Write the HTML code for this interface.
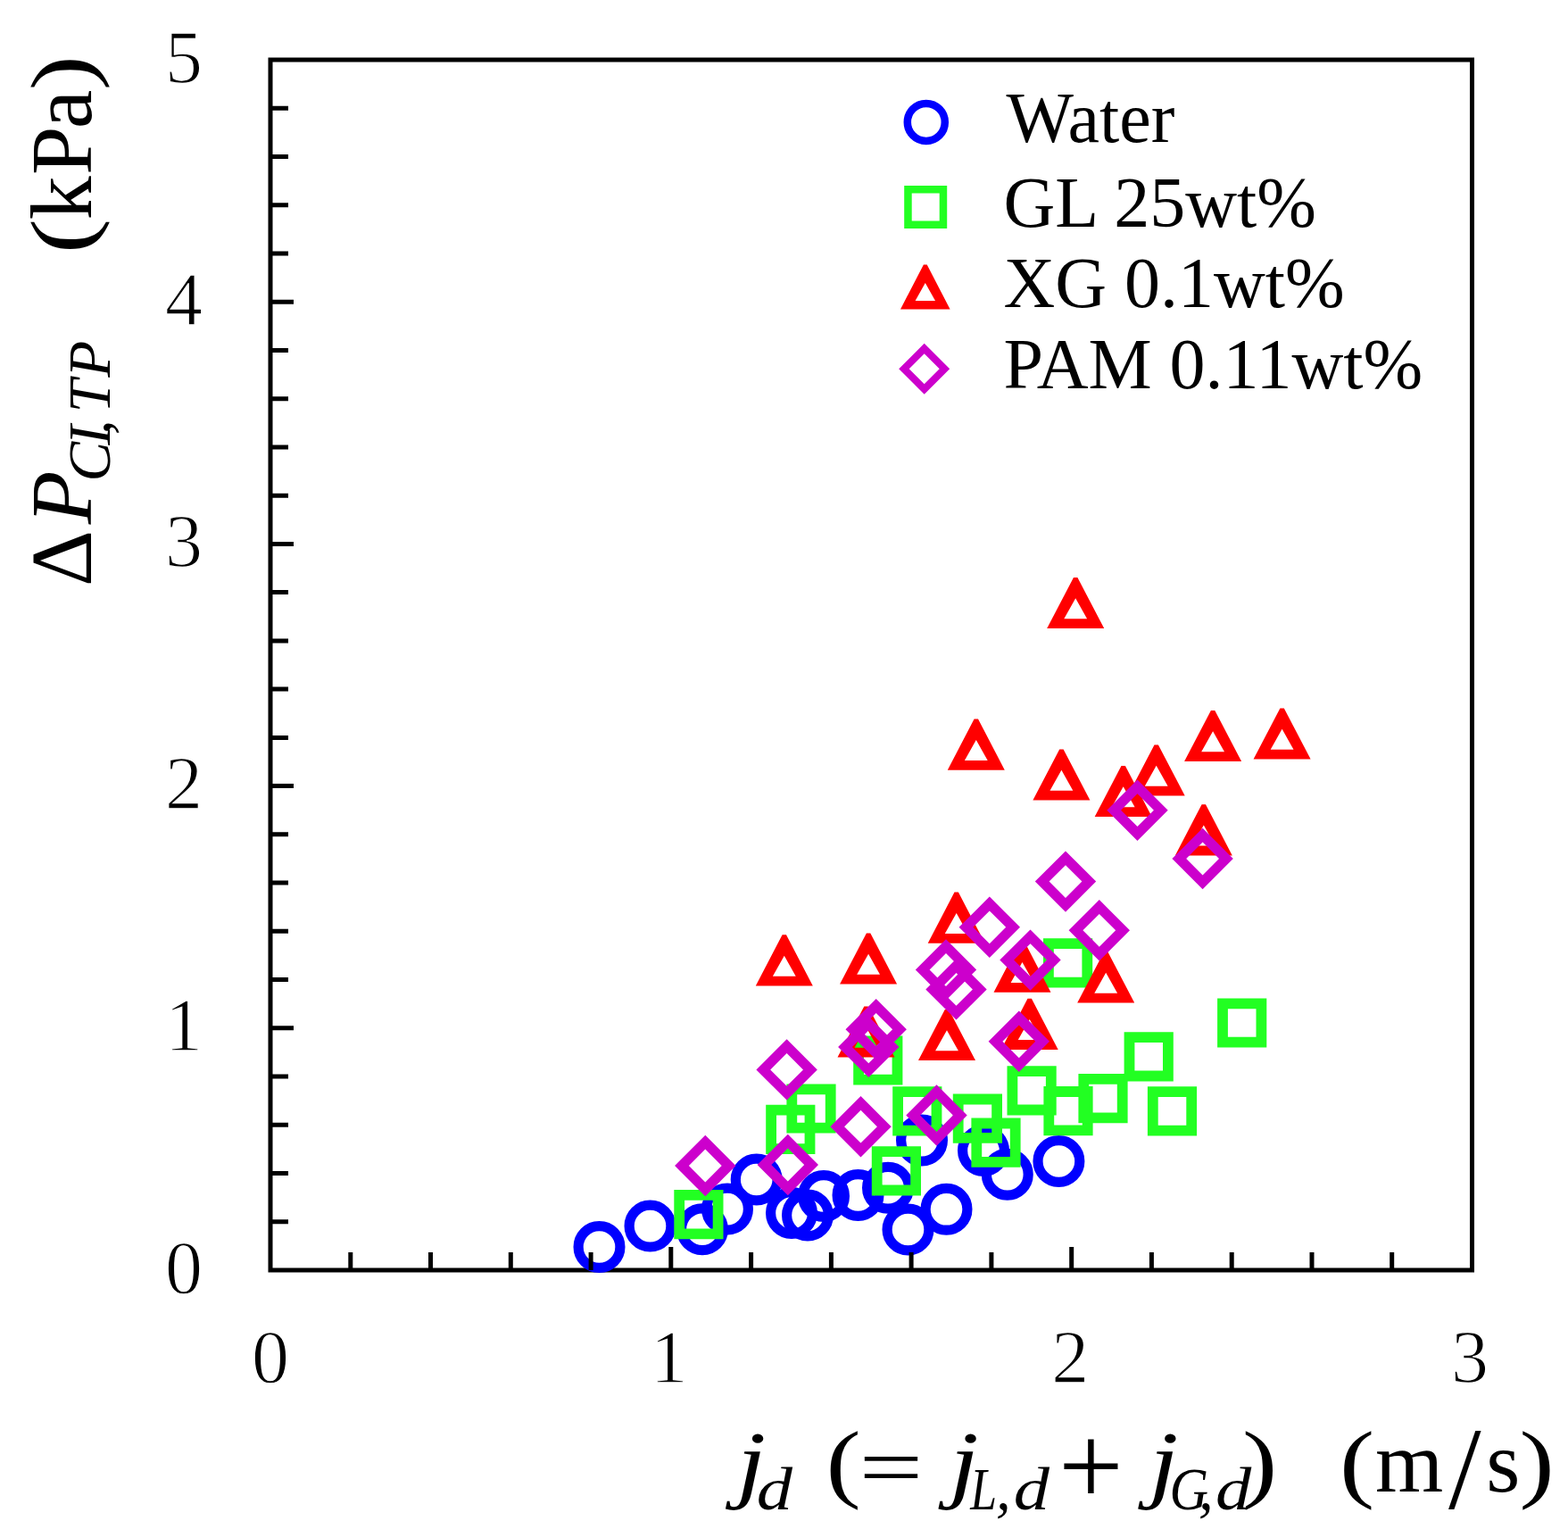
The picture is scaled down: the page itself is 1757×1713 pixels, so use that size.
<!DOCTYPE html><html><head><meta charset="utf-8"><style>html,body{margin:0;padding:0;background:#fff;}svg{display:block;}text{font-family:"Liberation Serif","Times New Roman",serif;fill:#000;}.tk{stroke:#fff;stroke-width:1.3px;}</style></head><body>
<svg width="1757" height="1713" viewBox="0 0 1757 1713">
<rect width="1757" height="1713" fill="#fff"/>
<rect x="303" y="67" width="1346.5" height="1356" fill="none" stroke="#000" stroke-width="5"/>
<text class="tk" x="227" y="1448.5" font-size="84" text-anchor="end">0</text>
<text class="tk" x="227" y="1177.3" font-size="84" text-anchor="end">1</text>
<text class="tk" x="227" y="906.1" font-size="84" text-anchor="end">2</text>
<text class="tk" x="227" y="634.9" font-size="84" text-anchor="end">3</text>
<text class="tk" x="227" y="363.7" font-size="84" text-anchor="end">4</text>
<text class="tk" x="227" y="92.5" font-size="84" text-anchor="end">5</text>
<text class="tk" x="303" y="1549" font-size="84" text-anchor="middle">0</text>
<text class="tk" x="749.8" y="1549" font-size="84" text-anchor="middle">1</text>
<text class="tk" x="1199.2" y="1549" font-size="84" text-anchor="middle">2</text>
<text class="tk" x="1647" y="1549" font-size="84" text-anchor="middle">3</text>
<g fill="none" stroke="#0000ff" stroke-width="11.2">
<circle cx="671.5" cy="1397" r="23.4"/>
<circle cx="728.5" cy="1373.6" r="23.4"/>
<circle cx="787" cy="1377.2" r="23.4"/>
<circle cx="815" cy="1354.6" r="23.4"/>
<circle cx="847.7" cy="1321.5" r="23.4"/>
<circle cx="887" cy="1359" r="23.4"/>
<circle cx="905" cy="1361.5" r="23.4"/>
<circle cx="923" cy="1340" r="23.4"/>
<circle cx="961.5" cy="1339" r="23.4"/>
<circle cx="995" cy="1330.7" r="23.4"/>
<circle cx="1017.5" cy="1377.5" r="23.4"/>
<circle cx="1033" cy="1277.6" r="23.4"/>
<circle cx="1060.5" cy="1354.8" r="23.4"/>
<circle cx="1102" cy="1289" r="23.4"/>
<circle cx="1128.8" cy="1315.7" r="23.4"/>
<circle cx="1186.4" cy="1301" r="23.4"/>
</g>
<g fill="#22ff22" fill-rule="evenodd"><path d="M755.3 1333h55.2v55.2h-55.2z M767.1 1344.8h31.6v31.6h-31.6z"/><path d="M858.2 1237.8h55.2v55.2h-55.2z M870 1249.6h31.6v31.6h-31.6z"/><path d="M881.4 1214.4h55.2v55.2h-55.2z M893.2 1226.2h31.6v31.6h-31.6z"/><path d="M956.2 1160.4h55.2v55.2h-55.2z M968 1172.2h31.6v31.6h-31.6z"/><path d="M976.8 1284.2h55.2v55.2h-55.2z M988.6 1296h31.6v31.6h-31.6z"/><path d="M1000.2 1217.3h55.2v55.2h-55.2z M1012 1229.1h31.6v31.6h-31.6z"/><path d="M1067.8 1225.6h55.2v55.2h-55.2z M1079.6 1237.4h31.6v31.6h-31.6z"/><path d="M1088.4 1252.6h55.2v55.2h-55.2z M1100.2 1264.4h31.6v31.6h-31.6z"/><path d="M1128.5 1194.2h55.2v55.2h-55.2z M1140.3 1206h31.6v31.6h-31.6z"/><path d="M1169 1051.3h55.2v55.2h-55.2z M1180.8 1063.1h31.6v31.6h-31.6z"/><path d="M1169.4 1217.1h55.2v55.2h-55.2z M1181.2 1228.9h31.6v31.6h-31.6z"/><path d="M1208.4 1203h55.2v55.2h-55.2z M1220.2 1214.8h31.6v31.6h-31.6z"/><path d="M1259.6 1156.2h55.2v55.2h-55.2z M1271.4 1168h31.6v31.6h-31.6z"/><path d="M1285.9 1217.3h55.2v55.2h-55.2z M1297.7 1229.1h31.6v31.6h-31.6z"/><path d="M1364.1 1118.4h55.2v55.2h-55.2z M1375.9 1130.2h31.6v31.6h-31.6z"/></g>
<g fill="#ff0000" fill-rule="evenodd"><path d="M876.6 1047.3L881 1047.3L910.8 1104.5L846.8 1104.5z M878.8 1070.7L891.7 1093.7L865.9 1093.7z"/><path d="M970.9 1045.4L975.3 1045.4L1005.1 1102.6L941.1 1102.6z M973.1 1068.8L986 1091.8L960.2 1091.8z"/><path d="M968.3 1127.4L972.7 1127.4L1002.5 1184.6L938.5 1184.6z M970.5 1150.8L983.4 1173.8L957.6 1173.8z"/><path d="M1058.8 1130.9L1063.2 1130.9L1093 1188.1L1029 1188.1z M1061 1154.3L1073.9 1177.3L1048.1 1177.3z"/><path d="M1069.5 999.6L1073.9 999.6L1103.7 1056.8L1039.7 1056.8z M1071.7 1023L1084.6 1046L1058.8 1046z"/><path d="M1091.6 805.6L1096 805.6L1125.8 862.8L1061.8 862.8z M1093.8 829L1106.7 852L1080.9 852z"/><path d="M1143.3 1054.6L1147.7 1054.6L1177.5 1111.8L1113.5 1111.8z M1145.5 1078L1158.4 1101L1132.6 1101z"/><path d="M1151.5 1118.7L1155.9 1118.7L1185.7 1175.9L1121.7 1175.9z M1153.7 1142.1L1166.6 1165.1L1140.8 1165.1z"/><path d="M1187.2 839.4L1191.6 839.4L1221.4 896.6L1157.4 896.6z M1189.4 862.8L1202.3 885.8L1176.5 885.8z"/><path d="M1203 646.9L1207.4 646.9L1237.2 704.1L1173.2 704.1z M1205.2 670.3L1218.1 693.3L1192.3 693.3z"/><path d="M1237 1066.4L1241.4 1066.4L1271.2 1123.6L1207.2 1123.6z M1239.2 1089.8L1252.1 1112.8L1226.3 1112.8z"/><path d="M1256.5 857.9L1260.9 857.9L1290.7 915.1L1226.7 915.1z M1258.7 881.3L1271.6 904.3L1245.8 904.3z"/><path d="M1293.5 834.4L1297.9 834.4L1327.7 891.6L1263.7 891.6z M1295.7 857.8L1308.6 880.8L1282.8 880.8z"/><path d="M1346.6 901.2L1351 901.2L1380.8 958.4L1316.8 958.4z M1348.8 924.6L1361.7 947.6L1335.9 947.6z"/><path d="M1356.9 795.9L1361.3 795.9L1391.1 853.1L1327.1 853.1z M1359.1 819.3L1372 842.3L1346.2 842.3z"/><path d="M1434.4 793.4L1438.8 793.4L1468.6 850.6L1404.6 850.6z M1436.6 816.8L1449.5 839.8L1423.7 839.8z"/></g>
<g fill="#cc00cc" fill-rule="evenodd"><path d="M790.3 1271.8L824.5 1306L790.3 1340.2L756.1 1306z M790.3 1287.6L808.7 1306L790.3 1324.4L771.9 1306z"/><path d="M881.6 1164.2L915.8 1198.4L881.6 1232.6L847.4 1198.4z M881.6 1180L900 1198.4L881.6 1216.8L863.2 1198.4z"/><path d="M882.8 1270.8L917 1305L882.8 1339.2L848.6 1305z M882.8 1286.6L901.2 1305L882.8 1323.4L864.4 1305z"/><path d="M964.5 1228L998.7 1262.2L964.5 1296.4L930.3 1262.2z M964.5 1243.8L982.9 1262.2L964.5 1280.6L946.1 1262.2z"/><path d="M973.3 1138.7L1007.5 1172.9L973.3 1207.1L939.1 1172.9z M973.3 1154.5L991.7 1172.9L973.3 1191.3L954.9 1172.9z"/><path d="M981.7 1119.1L1015.9 1153.3L981.7 1187.5L947.5 1153.3z M981.7 1134.9L1000.1 1153.3L981.7 1171.7L963.3 1153.3z"/><path d="M1049.5 1215.3L1083.7 1249.5L1049.5 1283.7L1015.3 1249.5z M1049.5 1231.1L1067.9 1249.5L1049.5 1267.9L1031.1 1249.5z"/><path d="M1060 1052.3L1094.2 1086.5L1060 1120.7L1025.8 1086.5z M1060 1068.1L1078.4 1086.5L1060 1104.9L1041.6 1086.5z"/><path d="M1071.5 1074.2L1105.7 1108.4L1071.5 1142.6L1037.3 1108.4z M1071.5 1090L1089.9 1108.4L1071.5 1126.8L1053.1 1108.4z"/><path d="M1108.8 1004.6L1143 1038.8L1108.8 1073L1074.6 1038.8z M1108.8 1020.4L1127.2 1038.8L1108.8 1057.2L1090.4 1038.8z"/><path d="M1141.8 1132.6L1176 1166.8L1141.8 1201L1107.6 1166.8z M1141.8 1148.4L1160.2 1166.8L1141.8 1185.2L1123.4 1166.8z"/><path d="M1154.5 1041.4L1188.7 1075.6L1154.5 1109.8L1120.3 1075.6z M1154.5 1057.2L1172.9 1075.6L1154.5 1094L1136.1 1075.6z"/><path d="M1194 953.4L1228.2 987.6L1194 1021.8L1159.8 987.6z M1194 969.2L1212.4 987.6L1194 1006L1175.6 987.6z"/><path d="M1231.8 1008.1L1266 1042.3L1231.8 1076.5L1197.6 1042.3z M1231.8 1023.9L1250.2 1042.3L1231.8 1060.7L1213.4 1042.3z"/><path d="M1274.5 873.5L1308.7 907.7L1274.5 941.9L1240.3 907.7z M1274.5 889.3L1292.9 907.7L1274.5 926.1L1256.1 907.7z"/><path d="M1347.6 927.8L1381.8 962L1347.6 996.2L1313.4 962z M1347.6 943.6L1366 962L1347.6 980.4L1329.2 962z"/></g>
<path d="M392.8 1423v-20 M482.5 1423v-20 M572.3 1423v-20 M662.1 1423v-20 M751.8 1423v-26 M841.6 1423v-20 M931.4 1423v-20 M1021.1 1423v-20 M1110.9 1423v-20 M1200.7 1423v-26 M1290.4 1423v-20 M1380.2 1423v-20 M1470 1423v-20 M1559.7 1423v-20 M303 1368.8h20 M303 1314.5h20 M303 1260.3h20 M303 1206h20 M303 1151.8h26 M303 1097.6h20 M303 1043.3h20 M303 989.1h20 M303 934.8h20 M303 880.6h26 M303 826.4h20 M303 772.1h20 M303 717.9h20 M303 663.6h20 M303 609.4h26 M303 555.2h20 M303 500.9h20 M303 446.7h20 M303 392.4h20 M303 338.2h26 M303 284h20 M303 229.7h20 M303 175.5h20 M303 121.2h20" stroke="#000" stroke-width="5" fill="none"/>
<circle cx="1037.8" cy="136.9" r="21" fill="none" stroke="#0000ff" stroke-width="8.5"/>
<path fill="#22ff22" fill-rule="evenodd" d="M1013.2 208h48v48h-48z M1021.7 216.5h31v31h-31z"/>
<path fill="#ff0000" fill-rule="evenodd" d="M1034.9 296.6L1038.7 296.6L1064.6 346.4L1009 346.4z M1036.8 317L1048 337L1025.6 337z"/>
<path fill="#cc00cc" fill-rule="evenodd" d="M1035.7 384.8L1064.2 413.3L1035.7 441.8L1007.2 413.3z M1035.7 396.3L1052.7 413.3L1035.7 430.3L1018.7 413.3z"/>
<text x="1127.5" y="158.6" font-size="80">Water</text>
<text x="1124.5" y="253.9" font-size="80">GL 25wt%</text>
<text x="1124.5" y="344.2" font-size="80">XG 0.1wt%</text>
<text x="1124.5" y="434.5" font-size="80">PAM 0.11wt%</text>
<text transform="translate(102,656.9) rotate(-90)" font-size="98">Δ</text>
<text transform="translate(102,587.2) rotate(-90)" font-size="98" font-style="italic">P</text>
<text transform="translate(123.4,539.5) rotate(-90)" font-size="67" font-style="italic">C</text>
<text transform="translate(123.4,498.8) rotate(-90)" font-size="67" font-style="italic">I</text>
<text transform="translate(123.4,486.9) rotate(-90)" font-size="67" font-style="italic">,</text>
<text transform="translate(123.4,462.4) rotate(-90)" font-size="67" font-style="italic">T</text>
<text transform="translate(123.4,422.7) rotate(-90)" font-size="67" font-style="italic">P</text>
<text transform="translate(102,263.9) rotate(-90) scale(1.2,1)" x="-16.9" font-size="98">(</text>
<text transform="translate(102,246.2) rotate(-90)" font-size="98">k</text>
<text transform="translate(102,196) rotate(-90)" font-size="98">P</text>
<text transform="translate(102,144.3) rotate(-90)" font-size="98">a</text>
<text transform="translate(102,82.5) rotate(-90) scale(1.2,1)" x="-15.7" font-size="98">)</text>
<text transform="translate(834.2,1671) scale(1.2,1)" x="-7.2" y="0" font-size="98" font-style="italic">j</text>
<text transform="translate(869.2,1691.4) scale(1.2,1)" x="-17.8" y="0" font-size="67" font-style="italic">d</text>
<text transform="translate(945.7,1671) scale(1.2,1)" x="-16.9" y="0" font-size="98">(</text>
<text transform="translate(998.6,1675.9) scale(1.3,1)" x="-27.7" y="0" font-size="98">=</text>
<text transform="translate(1072.6,1671) scale(1.2,1)" x="-7.2" y="0" font-size="98" font-style="italic">j</text>
<text transform="translate(1100.7,1691.4) scale(0.8,1)" x="-16.7" y="0" font-size="67" font-style="italic">L</text>
<text x="1115.9" y="1691.4" font-size="67" font-style="italic">,</text>
<text transform="translate(1157.1,1691.4) scale(1.2,1)" x="-17.8" y="0" font-size="67" font-style="italic">d</text>
<text x="1186.1" y="1686" font-size="129">+</text>
<text transform="translate(1296.3,1671) scale(1.2,1)" x="-7.2" y="0" font-size="98" font-style="italic">j</text>
<text transform="translate(1333.2,1691.4) scale(0.9,1)" x="-25.3" y="0" font-size="67" font-style="italic">G</text>
<text x="1343.1" y="1691.4" font-size="67" font-style="italic">,</text>
<text transform="translate(1383.3,1691.4) scale(1.2,1)" x="-17.8" y="0" font-size="67" font-style="italic">d</text>
<text transform="translate(1410.9,1671) scale(1.2,1)" x="-15.7" y="0" font-size="98">)</text>
<text transform="translate(1521.2,1671) scale(1.2,1)" x="-16.9" y="0" font-size="98">(</text>
<text x="1540.9" y="1671" font-size="98">m</text>
<text x="1622.9" y="1690.2" font-size="131.5">/</text>
<text x="1665.2" y="1671" font-size="98">s</text>
<text transform="translate(1721.4,1671) scale(1.2,1)" x="-15.7" y="0" font-size="98">)</text>
</svg></body></html>
